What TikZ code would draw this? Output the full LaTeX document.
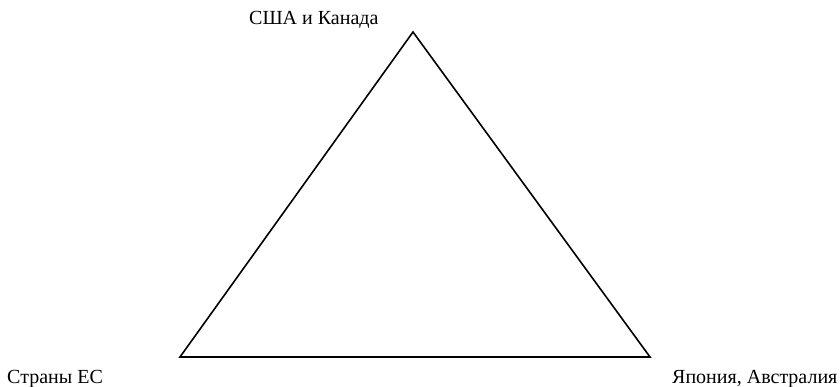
\documentclass[tikz,border=0pt]{standalone}
\usepackage{fontspec}
\setmainfont{Liberation Serif}
\begin{document}
\begin{tikzpicture}[x=1pt,y=1pt,
  lbl/.style={inner sep=0pt,font=\fontsize{20}{22}\selectfont},
  tri/.style={draw=black,line width=1.6pt,line join=miter}]
\useasboundingbox (0,0) rectangle (840,386);
\coordinate (top) at (413,354);
\coordinate (bl) at (180,29);
\coordinate (br) at (650,29);
\draw[tri] (top) -- (bl) -- (br) -- cycle;
\node[lbl,anchor=base west] (usa) at (249,361) {США и Канада};
\node[lbl,anchor=base west] (eu) at (7,3) {Страны ЕС};
\node[lbl,anchor=base west] (jp) at (672,3) {Япония, Австралия};
\end{tikzpicture}
\end{document}
